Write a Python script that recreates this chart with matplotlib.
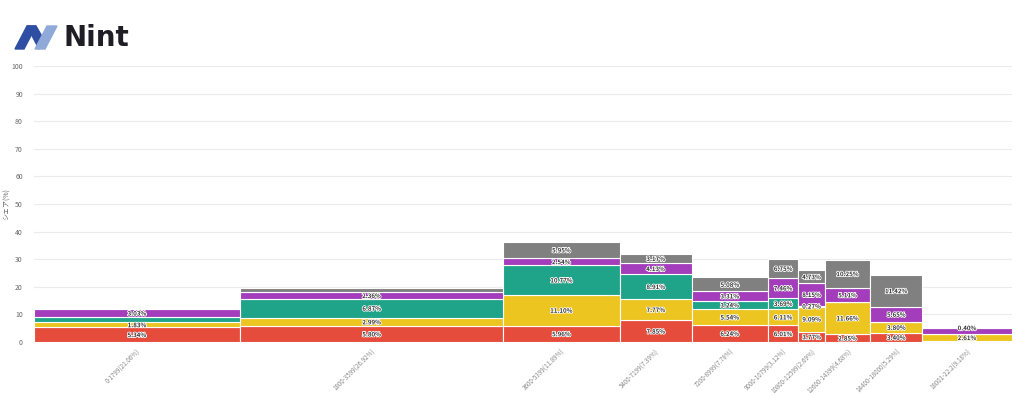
import matplotlib.pyplot as plt
import matplotlib.patheffects as pe
from matplotlib.patches import Polygon
import numpy as np

plt.rcParams['font.family'] = ['Noto Sans CJK JP', 'DejaVu Sans']

# price bands and their share of the market (bar widths, %)
bands = ['0-1799(21.06%)', '1800-3599(26.92%)', '3600-5399(11.89%)', '5400-7199(7.39%)',
         '7200-8999(7.78%)', '9000-10799(3.12%)', '10800-12599(2.69%)', '12600-14399(4.68%)',
         '14400-18000(5.29%)', '18001-22.2(9.18%)']
widths = [21.06, 26.92, 11.89, 7.39, 7.78, 3.12, 2.69, 4.68, 5.29, 9.18]

# stacked shares within each band, bottom to top
red = [5.34, 5.80, 5.96, 7.85, 6.24, 6.01, 3.77, 2.85, 3.40, 0.30]
yellow = [1.83, 2.99, 11.10, 7.77, 5.54, 6.11, 9.09, 11.66, 3.80, 2.61]
teal = [1.80, 6.87, 10.77, 8.91, 3.24, 3.69, 0.27, 0.00, 0.00, 0.00]
purple = [3.03, 2.36, 2.54, 4.13, 3.31, 7.46, 8.15, 5.11, 5.65, 2.05]
gray = [0.00, 1.45, 5.95, 3.17, 5.08, 6.75, 4.73, 10.25, 11.42, 0.40]

series = [red, yellow, teal, purple, gray]
colors = ['#E64C3C', '#EDC520', '#1FA389', '#A43DBB', '#808080']
# segments drawn without a value label (band index, series index)
no_label = {(0, 2), (1, 4), (9, 0), (9, 3)}

fig = plt.figure(figsize=(10.24, 3.93), dpi=100)
ax = fig.add_axes([34 / 1024, 51 / 393, 978 / 1024, 276 / 393])

lefts = np.concatenate([[0], np.cumsum(widths)[:-1]])
centers = lefts + np.array(widths) / 2
bottom = np.zeros(len(widths))
for si, (vals, col) in enumerate(zip(series, colors)):
    vals = np.array(vals)
    ax.bar(lefts, vals, width=widths, bottom=bottom, align='edge', color=col,
           edgecolor='white', linewidth=0.8, zorder=3)
    for bi, v in enumerate(vals):
        if v <= 0 or (bi, si) in no_label:
            continue
        ax.text(centers[bi], bottom[bi] + v / 2, f'{v:.2f}%', ha='center', va='center',
                fontsize=4.4, fontweight='bold', color='#333333', zorder=4,
                path_effects=[pe.withStroke(linewidth=1.2, foreground='white')])
    bottom += vals

ax.set_xlim(0, 100)
ax.set_ylim(0, 100)
ax.set_yticks(range(0, 101, 10))
ax.yaxis.grid(True, color='#ebebeb', linewidth=0.8, zorder=0)
ax.tick_params(axis='y', length=0, labelsize=5, labelcolor='#666666', pad=8)
ax.set_xticks(centers)
ax.set_xticklabels(bands, rotation=45, ha='right', rotation_mode='anchor',
                   fontsize=4.5, color='#888888')
ax.tick_params(axis='x', length=0, pad=4)
for s in ax.spines.values():
    s.set_visible(False)
ax.set_ylabel('シェア(%)', fontsize=5, color='#666666')
ax.yaxis.set_label_coords(-0.024, 0.5)

# logo
logo = fig.add_axes([0, 0, 1, 1], zorder=-1)
logo.set_xlim(0, 1024)
logo.set_ylim(393, 0)
logo.axis('off')
logo.add_patch(Polygon([(15, 49), (27, 26), (36, 26), (24, 49)], closed=True, color='#2D4EA2'))
logo.add_patch(Polygon([(27, 26), (36, 26), (44, 40), (39, 49)], closed=True, color='#2D4EA2'))
logo.add_patch(Polygon([(35, 49), (47, 26), (57, 26), (45, 49)], closed=True, color='#8FA9D8'))
logo.text(64, 38, 'Nint', fontsize=20, fontweight='bold', color='#1E1E24',
          va='center', ha='left', family='DejaVu Sans')

fig.savefig('out.png', dpi=100)
